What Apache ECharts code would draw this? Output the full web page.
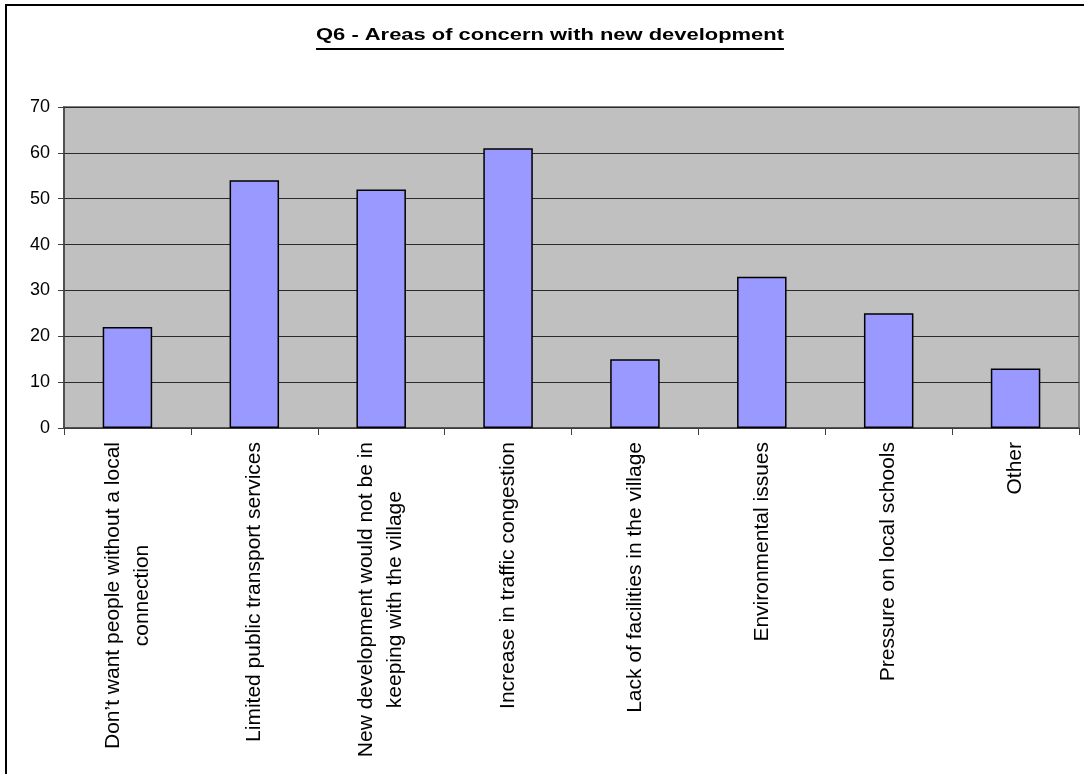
<!DOCTYPE html>
<html>
<head>
<meta charset="utf-8">
<script src="https://cdn.jsdelivr.net/npm/echarts@6/dist/echarts.min.js"></script>
<style>
  html, body { margin: 0; padding: 0; background: #ffffff; }
  #chart { width: 1084px; height: 774px; }
</style>
</head>
<body>
<div id="chart"></div>
<script>
// Survey question and answers
const titleText = 'Q6 - Areas of concern with new development';
const categories = [
  'Don’t want people without a local\nconnection',
  'Limited public transport services',
  'New development would not be in\nkeeping with the village',
  'Increase in traffic congestion',
  'Lack of facilities in the village',
  'Environmental issues',
  'Pressure on local schools',
  'Other'
];
const responses = [22, 54, 52, 61, 15, 33, 25, 13];
const yTicks = { min: 0, max: 70, step: 10 };

const FONT = '"Liberation Sans", Arial, Helvetica, sans-serif';

// Width of the title so the underline spans it exactly
const titleFont = 'bold 17px ' + FONT;
const measureCtx = document.createElement('canvas').getContext('2d');
measureCtx.font = titleFont;
const titleWidth = measureCtx.measureText(titleText).width;
const titleScaleX = 1.29;

const chart = echarts.init(document.getElementById('chart'), null, { renderer: 'canvas' });

chart.setOption({
  backgroundColor: '#ffffff',
  animation: false,
  grid: {
    left: 64, right: 5, top: 107, bottom: 346,
    show: true,
    backgroundColor: '#C0C0C0',
    borderColor: '#808080',
    borderWidth: 2
  },
  graphic: [
    // frame round the chart (left and top edges fall inside the page)
    {
      type: 'rect',
      shape: { x: 6, y: 5, width: 1200, height: 900 },
      style: { fill: 'none', stroke: '#000000', lineWidth: 2 },
      silent: true
    },
    {
      type: 'group',
      x: 550, y: 0,
      scaleX: titleScaleX,
      children: [
        {
          type: 'text',
          x: 0, y: 44,
          style: {
            text: titleText,
            font: titleFont,
            fill: '#000000',
            align: 'center', textAlign: 'center',
            verticalAlign: 'bottom', textVerticalAlign: 'bottom'
          }
        },
        {
          type: 'line',
          shape: { x1: -titleWidth / 2, y1: 49, x2: titleWidth / 2, y2: 49 },
          style: { stroke: '#000000', lineWidth: 1.8 }
        }
      ]
    }
  ],
  xAxis: {
    type: 'category',
    data: categories,
    boundaryGap: true,
    axisLine: { show: true, lineStyle: { color: '#404040', width: 1.5 } },
    axisTick: { show: true, alignWithLabel: false, length: 7, lineStyle: { color: '#404040', width: 1 } },
    splitLine: { show: false },
    axisLabel: {
      interval: 0,
      rotate: 90,
      margin: 14,
      color: '#000000',
      fontFamily: FONT,
      fontSize: 21,
      lineHeight: 29,
      formatter: function (v) {
        return v.split('\n').map(function (s) { return '{c|' + s + '}'; }).join('\n');
      },
      rich: {
        c: { align: 'center', fontFamily: FONT, fontSize: 21, lineHeight: 29, color: '#000000' }
      }
    }
  },
  yAxis: {
    type: 'value',
    min: yTicks.min,
    max: yTicks.max,
    interval: yTicks.step,
    axisLine: { show: true, lineStyle: { color: '#404040', width: 1.5 } },
    axisTick: { show: true, length: 6, lineStyle: { color: '#404040', width: 1 } },
    splitLine: { show: true, lineStyle: { color: '#2a2a2a', width: 1.2 } },
    axisLabel: {
      margin: 14,
      color: '#000000',
      fontFamily: FONT,
      fontSize: 18
    }
  },
  series: [
    {
      type: 'bar',
      data: responses,
      barWidth: '39%',
      itemStyle: {
        color: '#9999FF',
        borderColor: '#000000',
        borderWidth: 1.5
      }
    }
  ]
});
</script>
</body>
</html>
